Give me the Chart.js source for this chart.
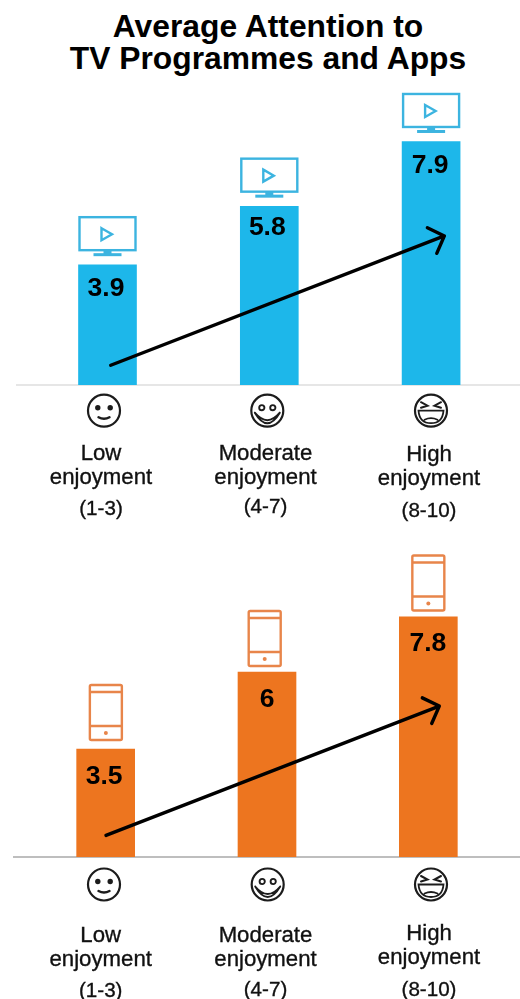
<!DOCTYPE html>
<html>
<head>
<meta charset="utf-8">
<title>Average Attention to TV Programmes and Apps</title>
<script src="https://cdn.jsdelivr.net/npm/chart.js@4/dist/chart.umd.min.js"></script>
<style>
  html, body { margin: 0; padding: 0; background: #fff; overflow: hidden; }
  #page { position: relative; width: 520px; height: 999px; }
  h1 {
    position: absolute; left: 0; top: 10px; width: 536px; margin: 0;
    font: bold 31.8px/32px "Liberation Sans", Arial, sans-serif;
    text-align: center; color: #000;
  }
  canvas { position: absolute; left: 0; }
</style>
</head>
<body>
<div id="page">
  <h1>Average Attention to<br>TV Programmes and Apps</h1>
  <canvas id="tvChart" width="520" height="470" style="top:60px"></canvas>
  <canvas id="appChart" width="520" height="459" style="top:540px"></canvas>
</div>
<script>
// 数据
const categories = ['Low enjoyment', 'Moderate enjoyment', 'High enjoyment'];
const categoryLines = [['Low', 'enjoyment', '(1-3)'], ['Moderate', 'enjoyment', '(4-7)'], ['High', 'enjoyment', '(8-10)']];
const tvValues = [3.9, 5.8, 7.9];
const appValues = [3.5, 6, 7.8];
// 箭头端点（类别位置, 数值）
const tvArrow = [[0.02, 0.64], [2.082, 4.84]];
const appArrow = [[0.002, 0.7], [2.068, 4.9]];

const TV_BLUE = '#1db7ea';
const TV_ICON = '#3cb4e0';
const APP_ORANGE = '#ed751f';
const APP_ICON = '#e8854a';
const INK = '#111';

function drawTv(ctx, bar) {
  const left = bar.x - 28, top = bar.y - 47.7;
  ctx.strokeStyle = TV_ICON;
  ctx.fillStyle = TV_ICON;
  ctx.lineWidth = 2.4;
  ctx.strokeRect(left, top, 56, 33);
  ctx.fillRect(bar.x - 4, top + 33, 8, 4);
  ctx.fillRect(bar.x - 14, top + 36, 28, 3);
  // 播放按钮
  const cx = bar.x - 1, cy = top + 17;
  ctx.beginPath();
  ctx.moveTo(cx - 5, cy - 6);
  ctx.lineTo(cx + 5.5, cy);
  ctx.lineTo(cx - 5, cy + 6);
  ctx.closePath();
  ctx.stroke();
}

function drawPhone(ctx, bar, offset) {
  const left = bar.x - 16 + offset.x, top = bar.y + offset.y;
  ctx.strokeStyle = APP_ICON;
  ctx.fillStyle = APP_ICON;
  ctx.lineWidth = 2.4;
  ctx.beginPath();
  ctx.roundRect(left, top, 32, 55, 1.5);
  ctx.moveTo(left, top + 7);
  ctx.lineTo(left + 32, top + 7);
  ctx.moveTo(left, top + 41);
  ctx.lineTo(left + 32, top + 41);
  ctx.stroke();
  ctx.beginPath();
  ctx.arc(left + 16, top + 48, 2, 0, Math.PI * 2);
  ctx.fill();
}

function drawFace(ctx, kind, cx, cy) {
  ctx.save();
  ctx.translate(cx, cy);
  ctx.strokeStyle = '#1c1c1c';
  ctx.fillStyle = '#1c1c1c';
  ctx.lineWidth = 2.2;
  ctx.lineCap = 'round';
  ctx.beginPath();
  ctx.arc(0, 0, 16, 0, Math.PI * 2);
  ctx.stroke();
  if (kind === 0) {
    [-6.2, 6.2].forEach(x => {
      ctx.beginPath();
      ctx.arc(x, -3, 2.7, 0, Math.PI * 2);
      ctx.fill();
    });
    ctx.lineWidth = 2.4;
    ctx.beginPath();
    ctx.moveTo(-5.5, 6.5);
    ctx.quadraticCurveTo(0, 9.5, 5.5, 6.5);
    ctx.stroke();
  } else if (kind === 1) {
    ctx.lineWidth = 1.9;
    [-5.5, 5.5].forEach(x => {
      ctx.beginPath();
      ctx.arc(x, -3, 2.6, 0, Math.PI * 2);
      ctx.stroke();
    });
    ctx.beginPath();
    ctx.moveTo(-12.5, 2);
    ctx.quadraticCurveTo(0, 23, 12.5, 2);
    ctx.moveTo(-12.5, 2);
    ctx.quadraticCurveTo(0, 17, 12.5, 2);
    ctx.stroke();
  } else {
    ctx.lineWidth = 2;
    ctx.beginPath();
    ctx.moveTo(-10, -8.5);
    ctx.lineTo(-3.5, -5);
    ctx.lineTo(-10, -3);
    ctx.moveTo(10, -8.5);
    ctx.lineTo(3.5, -5);
    ctx.lineTo(10, -3);
    ctx.stroke();
    ctx.lineWidth = 1.8;
    ctx.beginPath();
    ctx.moveTo(-12.5, 0);
    ctx.lineTo(12.5, 0);
    ctx.quadraticCurveTo(11.5, 12.5, 0, 12.5);
    ctx.quadraticCurveTo(-11.5, 12.5, -12.5, 0);
    ctx.closePath();
    ctx.moveTo(-6.5, 9);
    ctx.quadraticCurveTo(0, 6, 6.5, 9);
    ctx.stroke();
  }
  ctx.restore();
}

// 基线、图标、数值标签、表情、箭头都挂在同一个插件上
const decorPlugin = {
  id: 'decor',
  beforeDatasetsDraw(chart, args, opts) {
    const { ctx, scales: { y } } = chart;
    ctx.save();
    ctx.strokeStyle = opts.axisColor;
    ctx.lineWidth = 1.6;
    ctx.beginPath();
    ctx.moveTo(opts.axisStart, y.getPixelForValue(0));
    ctx.lineTo(520, y.getPixelForValue(0));
    ctx.stroke();
    ctx.restore();
  },
  afterDatasetsDraw(chart, args, opts) {
    const { ctx, scales: { x, y } } = chart;
    const bars = chart.getDatasetMeta(0).data;
    const values = chart.data.datasets[0].data;
    const base = y.getPixelForValue(0);

    ctx.save();
    bars.forEach((bar, i) => {
      if (opts.icon === 'tv') drawTv(ctx, bar);
      else drawPhone(ctx, bar, opts.iconOffsets[i]);

      // 数值标签
      ctx.fillStyle = '#000';
      ctx.font = 'bold 26.5px "Liberation Sans", Arial, sans-serif';
      ctx.textAlign = 'center';
      ctx.textBaseline = 'alphabetic';
      ctx.fillText(String(values[i]), bar.x + opts.valueOffsets[i].x, bar.y + opts.valueOffsets[i].y);

      // 表情和类别文字，括号那一行字号略小
      drawFace(ctx, i, opts.faceX[i], base + opts.faceDy);
      ctx.fillStyle = INK;
      ctx.strokeStyle = INK;
      ctx.lineWidth = 0.35;
      categoryLines[i].forEach((line, n) => {
        ctx.font = (n === 2 ? '20.6px' : '22.2px') + ' "Liberation Sans", Arial, sans-serif';
        ctx.fillText(line, opts.textX[i], base + opts.textDy[i][n]);
        ctx.strokeText(line, opts.textX[i], base + opts.textDy[i][n]);
      });
    });

    // 趋势箭头
    const [from, to] = opts.arrow;
    const tipX = x.getPixelForValue(to[0]), tipY = y.getPixelForValue(to[1]);
    ctx.strokeStyle = '#000';
    ctx.lineWidth = 3.4;
    ctx.lineCap = 'round';
    ctx.lineJoin = 'round';
    ctx.beginPath();
    ctx.moveTo(x.getPixelForValue(from[0]), y.getPixelForValue(from[1]));
    ctx.lineTo(tipX, tipY);
    ctx.moveTo(tipX - 17, tipY - 8.2);
    ctx.lineTo(tipX, tipY);
    ctx.lineTo(tipX - 7.6, tipY + 17.4);
    ctx.stroke();
    ctx.restore();
  }
};

function createChart(canvasId, values, color, padding, decor) {
  return new Chart(document.getElementById(canvasId), {
    type: 'bar',
    data: {
      labels: categories,
      datasets: [{ data: values, backgroundColor: color, barThickness: 58, borderWidth: 0 }]
    },
    plugins: [decorPlugin],
    options: {
      responsive: false,
      animation: false,
      layout: { padding },
      plugins: { legend: { display: false }, tooltip: { enabled: false }, decor },
      scales: {
        x: { display: false },
        y: { display: false, min: 0, max: 10 }
      }
    }
  });
}

createChart('tvChart', tvValues, TV_BLUE, { left: 26.6, right: 8, top: 17, bottom: 145 }, {
  icon: 'tv',
  axisColor: '#dedede',
  axisStart: 16,
  arrow: tvArrow,
  valueOffsets: [{ x: -1.5, y: 31 }, { x: -2, y: 28.5 }, { x: -1, y: 31 }],
  faceX: [104, 267.3, 431],
  faceDy: 25.7,
  textX: [101, 265.5, 429],
  textDy: [[75, 99, 130], [75, 98.5, 127.5], [76, 99.5, 131.5]]
});

createChart('appChart', appValues, APP_ORANGE, { left: 25, right: 11, top: 9, bottom: 142 }, {
  icon: 'phone',
  iconOffsets: [{ x: 0.2, y: -64.2 }, { x: -2.3, y: -61.2 }, { x: 0, y: -61.2 }],
  axisColor: '#a8a8a8',
  axisStart: 13,
  arrow: appArrow,
  valueOffsets: [{ x: -1.5, y: 35 }, { x: 0, y: 34.5 }, { x: -0.5, y: 34 }],
  faceX: [104, 267.7, 431],
  faceDy: 27.5,
  textX: [100.7, 265.5, 429],
  textDy: [[85, 109, 140], [85, 109, 139], [83, 106.5, 139]]
});
</script>
</body>
</html>
